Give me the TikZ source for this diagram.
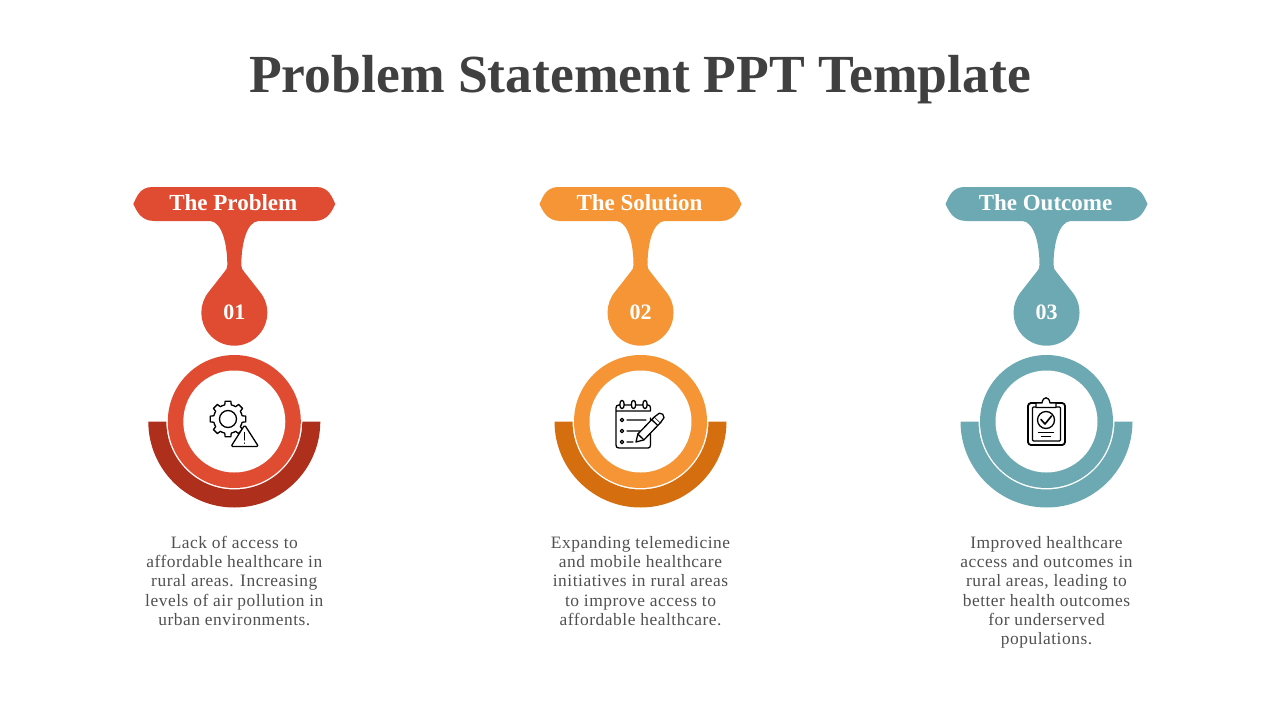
\documentclass[tikz,border=0pt]{standalone}
\usepackage{fontspec}
\setmainfont{Liberation Serif}
\newfontfamily\bodyfont[LetterSpace=3]{Liberation Serif}
\definecolor{titlegray}{HTML}{404040}
\definecolor{bodygray}{HTML}{505050}
\definecolor{redmain}{HTML}{E04C32}
\definecolor{reddark}{HTML}{AE301C}
\definecolor{orangemain}{HTML}{F59536}
\definecolor{orangedark}{HTML}{D56E0E}
\definecolor{tealmain}{HTML}{6CA9B2}
\tikzset{
  titletext/.style={text=titlegray, font=\fontsize{53.6}{60}\selectfont\bfseries},
  headtext/.style={text=white, font=\fontsize{23}{26}\selectfont\bfseries},
  numtext/.style={text=white, font=\fontsize{22}{26}\selectfont\bfseries},
  bodytext/.style={text=bodygray, align=center, anchor=north, font=\bodyfont\fontsize{17.4}{19.3}\selectfont},
  iconline/.style={draw=black, line width=1.3pt, line join=round, line cap=round},
}
\begin{document}
\begin{tikzpicture}[x=1pt, y=-1pt]
  \useasboundingbox (0,0) rectangle (1280,720);
  \node[titletext] (title) at (640,80) {Problem Statement PPT Template};
  % one column per step
  \foreach \cx/\main/\dark/\head/\num/\body in {
    234.3/redmain/reddark/The Problem/01/{Lack of access to\\affordable healthcare in\\rural areas. Increasing\\levels of air pollution in\\urban environments.},
    640.5/orangemain/orangedark/The Solution/02/{Expanding telemedicine\\and mobile healthcare\\initiatives in rural areas\\to improve access to\\affordable healthcare.},
    1046.5/tealmain/tealmain/The Outcome/03/{Improved healthcare\\access and outcomes in\\rural areas, leading to\\better health outcomes\\for underserved\\populations.}} {
    \begin{scope}[shift={(\cx,0)}]
      % banner, neck and drop are one outline
      \fill[\main] (-82,187) -- (82,187)
        .. controls (95,187) and (98,198) .. (101,204)
        .. controls (98,210) and (94,221) .. (80,221) -- (24,221)
        .. controls (12,222) and (7,245) .. (7,265)
        .. controls (7,268) and (8,270) .. (10,272) -- (25.3,291.5)
        arc[start angle=-40, end angle=220, radius=33]
        -- (-10,272) .. controls (-8,270) and (-7,268) .. (-7,265)
        .. controls (-7,245) and (-12,222) .. (-24,221) -- (-80,221)
        .. controls (-94,221) and (-98,210) .. (-101,204)
        .. controls (-98,198) and (-95,187) .. (-82,187) -- cycle;
      % lower half ring, then the ring on top of it
      \fill[\dark] (-86,421.5) arc[start angle=180, end angle=0, radius=86]
        -- (68,421.5) arc[start angle=0, end angle=180, radius=68] -- cycle;
      \fill[\main] (0,421.5) circle[radius=66.5];
      \fill[white] (0,421.5) circle[radius=51];
      \node[headtext] (head\num) at (-1,203) {\head};
      \node[numtext] (num\num) at (0,312) {\num};
      \node[bodytext] (body\num) at (0,532.5) {\body};
    \end{scope}
  }
  % gear with warning sign
  \begin{scope}[shift={(228,419)}]
    \foreach \a in {0,45,...,315} {
      \draw[iconline] (\a-22.5:14.5) -- (\a-13:14.5) -- (\a-9:18) -- (\a+9:18) -- (\a+13:14.5) -- (\a+22.5:14.5);
    }
    \draw[iconline] (0,0) circle[radius=8.5];
  \end{scope}
  \draw[iconline, fill=white, rounded corners=1.5pt] (244.7,425) -- (258.5,446.5) -- (231,446.5) -- cycle;
  \draw[iconline] (244.7,432.5) -- (244.7,440) (244.7,443) -- (244.7,443.3);
  % note pad with pen
  \draw[iconline] (650.5,418) -- (650.5,445) .. controls (650.5,447) and (649.5,448) .. (648,448)
    -- (619,448) .. controls (617,448) and (616,447) .. (616,445) -- (616,408)
    .. controls (616,406) and (617,405) .. (619,405) -- (648,405)
    .. controls (649.5,405) and (650.5,406) .. (650.5,408) -- (650.5,411) -- (616,411);
  \foreach \rx in {622,633.5,645} {
    \draw[iconline, fill=white] (\rx,404.5) ellipse[x radius=2.2, y radius=4.2];
  }
  \foreach \ry/\rend in {420/646,431/640,442/633} {
    \draw[iconline] (622,\ry) circle[radius=1.7] (627,\ry) -- (\rend,\ry);
  }
  \begin{scope}[shift={(636,442)}, rotate=46]
    \draw[iconline, fill=white] (0,0) -- (7,-4.2) -- (31,-4.2) -- (31,4.2) -- (7,4.2) -- cycle;
    \draw[iconline, fill=white] (31,-4.2) -- (37,-3.2) -- (38.5,0) -- (37,3.2) -- (31,4.2);
    \draw[iconline] (7,-4.2) -- (7,4.2) (27,-4.2) -- (27,4.2);
  \end{scope}
  % clipboard with tick
  \draw[iconline, line width=1.8pt, rounded corners=3pt] (1028,403) rectangle (1065,445);
  \draw[iconline, rounded corners=1pt] (1032.5,407) rectangle (1060.5,441);
  \draw[iconline, fill=white] (1036,407.5) -- (1036,403) -- (1042,403) .. controls (1043,396) and (1049,396) .. (1050,403)
    -- (1056,403) -- (1056,407.5) -- cycle;
  \draw[iconline] (1046,420) circle[radius=8.5];
  \draw[iconline, line width=1.6pt] (1041,419.5) -- (1045,424) -- (1051.5,416);
  \draw[iconline] (1038.5,432.5) -- (1053.5,432.5) (1041.5,436.5) -- (1050.5,436.5);
\end{tikzpicture}
\end{document}
